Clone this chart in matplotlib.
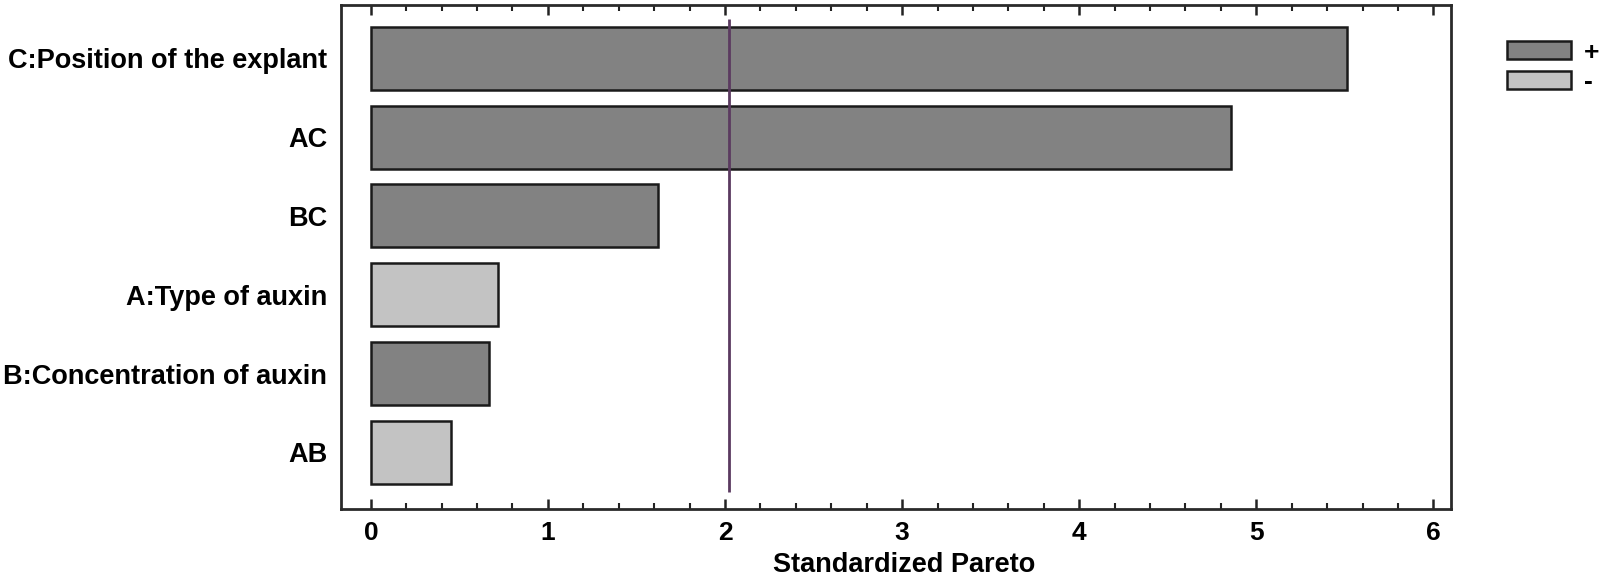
import matplotlib
matplotlib.use("Agg")
import matplotlib.pyplot as plt
from matplotlib.patches import Patch
from matplotlib.ticker import MultipleLocator

plt.rcParams['font.family'] = ['Liberation Sans', 'DejaVu Sans']

factors = ["C:Position of the explant", "AC", "BC", "A:Type of auxin",
           "B:Concentration of auxin", "AB"]
effects = [5.51, 4.86, 1.62, 0.72, 0.67, 0.45]
signs = ["+", "+", "+", "-", "+", "-"]
critical = 2.02
xticks = [0, 1, 2, 3, 4, 5, 6]

pos_color = "#828282"
neg_color = "#c3c3c3"

fig = plt.figure(figsize=(16.05, 5.79), dpi=100)
ax = fig.add_axes([0.2125, 0.1214, 0.6916, 0.8700])

ypos = list(range(len(factors)))
colors = [pos_color if s == "+" else neg_color for s in signs]
ax.barh(ypos, effects, height=0.8, color=colors, edgecolor="#1a1a1a",
        linewidth=1.8, zorder=2)
ax.vlines(critical, -0.5, len(factors) - 0.5, color="#5b3a60", linewidth=2, zorder=3)

ax.set_xlim(-0.168, 6.10)
ax.set_ylim(len(factors) - 0.286, -0.675)
ax.set_xticks(xticks)
ax.set_xticklabels([str(t) for t in xticks])
ax.xaxis.set_minor_locator(MultipleLocator(0.2))
ax.set_yticks(ypos)
ax.set_yticklabels(factors)

ax.tick_params(axis="x", which="major", direction="in", length=7.5, width=1.8,
               top=True, bottom=True, labelsize=19, pad=9, color="#222222")
ax.tick_params(axis="x", which="minor", direction="in", length=4.5, width=1.5,
               top=True, bottom=True, color="#222222")
ax.tick_params(axis="y", which="both", length=0, labelsize=19.5, pad=10)
for lbl in ax.get_xticklabels() + ax.get_yticklabels():
    lbl.set_fontweight("bold")

for sp in ax.spines.values():
    sp.set_linewidth(2)
    sp.set_color("#2a2a2a")

ax.set_xlabel("Standardized Pareto", fontsize=19.5, fontweight="bold", labelpad=5)
ax.xaxis.set_label_coords(0.507, -0.085)

handles = [Patch(facecolor=pos_color, edgecolor="#1a1a1a", linewidth=1.8, label="+"),
           Patch(facecolor=neg_color, edgecolor="#1a1a1a", linewidth=1.8, label="-")]
leg = fig.legend(handles=handles, loc="upper left", bbox_to_anchor=(0.9323, 0.948),
                 frameon=False, handlelength=2.42, handleheight=0.68,
                 labelspacing=0.21, handletextpad=0.5, borderaxespad=0,
                 prop={"size": 19, "weight": "bold"})

fig.savefig("out.png", dpi=100)
